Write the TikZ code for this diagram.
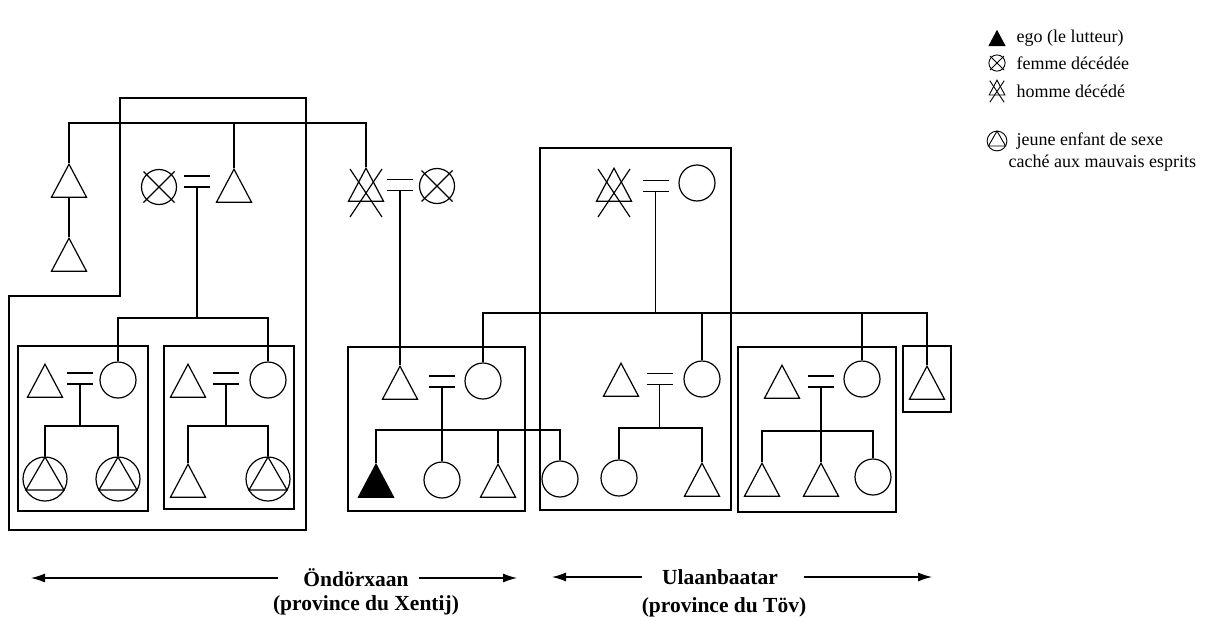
\documentclass[tikz,border=0pt]{standalone}
\usepackage{fontspec}
\setmainfont{Liberation Serif}
\usetikzlibrary{shapes.geometric,arrows.meta}
\tikzset{
  tri/.style={draw, isosceles triangle, isosceles triangle apex angle=60, isosceles triangle stretches, shape border rotate=90, minimum width=35pt, minimum height=33pt, inner sep=0pt, anchor=apex},
  circ/.style={draw, circle, minimum size=36pt, inner sep=0pt},
  hidc/.style={draw, circle, minimum size=44pt, inner sep=0pt},
  hidt/.style={draw, regular polygon, regular polygon sides=3, minimum size=44pt, inner sep=0pt},
  wed/.pic={\draw (-13,-5.5) -- (13,-5.5) (-13,5.5) -- (13,5.5); \coordinate (-low) at (0,5.5);},
  crossc/.pic={\draw (-15.5,-15.5) -- (15.5,15.5) (15.5,-15.5) -- (-15.5,15.5);},
  crosst/.pic={\draw (-16,-24) -- (16,24) (16,-24) -- (-16,24);},
  place/.style={font=\fontsize{21.5}{26}\selectfont\bfseries, inner sep=0pt},
  legend/.style={font=\fontsize{18}{22}\selectfont, anchor=west, inner sep=0pt},
  region/.style={-{Latex[length=14pt,width=9pt]}}
}
\begin{document}
\begin{tikzpicture}[x=1pt, y=-1pt, line width=1.2pt]
\useasboundingbox (0,0) rectangle (1210,621);

\node[tri] (ggA) at (69,163) {};
\node[tri] (ggB) at (69,237) {};
\node[circ, minimum size=35pt] (gmL) at (159,187) {};
\pic at (gmL.center) {crossc};
\pic (wL) at (197,181.5) {wed};
\node[tri] (gfL) at (234,168) {};
\node[tri] (gdM) at (366,167) {};
\pic at ([yshift=-26pt]gdM.apex) {crosst};
\pic (wM) at (400,185) {wed};
\node[circ, minimum size=35pt] (gmM) at (437,186) {};
\pic at (gmM.center) {crossc};
\node[tri] (gdT) at (614,167) {};
\pic at ([yshift=-26pt]gdT.apex) {crosst};
\pic (wT) at (655.5,186) {wed};
\node[circ] (gmT) at (697,183) {};

\node[tri] (hA) at (45,363) {};
\pic (wA) at (80,378.5) {wed};
\node[circ] (mA) at (118,380) {};
\node[hidc] (kA1) at (45,479) {};
\node[hidt] (kA1t) at (kA1) {};
\node[hidc] (kA2) at (118,479) {};
\node[hidt] (kA2t) at (kA2) {};

\node[tri] (hB) at (188,363) {};
\pic (wB) at (226,378.5) {wed};
\node[circ] (mB) at (268,380) {};
\node[tri] (kB1) at (188,463) {};
\node[hidc] (kB2) at (268,479) {};
\node[hidt] (kB2t) at (kB2) {};

\node[tri] (hC) at (400,365) {};
\pic (wC) at (442,381.5) {wed};
\node[circ] (mC) at (483,381) {};
\node[tri, fill=black] (ego) at (376,463) {};
\node[circ] (kC2) at (442,480) {};
\node[tri] (kC3) at (498,463) {};
\node[circ] (kC4) at (560,479) {};

\node[tri] (hD) at (621,362) {};
\pic (wD) at (659.5,379) {wed};
\node[circ] (mD) at (702,379) {};
\node[circ] (kD1) at (619,478) {};
\node[tri] (kD2) at (702,462) {};

\node[tri] (hE) at (782,364) {};
\pic (wE) at (821,381.5) {wed};
\node[circ] (mE) at (862,379) {};
\node[tri] (kE1) at (762,462) {};
\node[tri] (kE2) at (821,462) {};
\node[circ] (kE3) at (873,477) {};

\node[tri] (sT) at (927,365) {};

\draw (120,98) -- (306,98) -- (306,530) -- (9,530) -- (9,296) -- (120,296) -- cycle;
\draw (18,346) rectangle (148,511);
\draw (164,346) rectangle (294,509);
\draw (348,347) rectangle (525,511);
\draw (540,148) rectangle (731,510);
\draw (738,347) rectangle (896,512);
\draw (903,346) rectangle (951,412);

\coordinate (topbar) at (0,123);
\draw (ggA.apex) -- (ggA.apex |- topbar) -| (gdM.apex);
\draw (gfL.apex) -- (gfL.apex |- topbar);
\draw (ggA.left corner -| ggA.apex) -- (ggB.apex);

\coordinate (barL) at (0,318);
\draw (wL-low) -- (wL-low |- barL);
\draw (mA.north) -- (mA.north |- barL) -| (mB.north);
\coordinate (barA) at (0,426);
\draw (wA-low) -- (wA-low |- barA);
\draw (kA1.north) -- (kA1.north |- barA) -| (kA2.north);
\draw (wB-low) -- (wB-low |- barA);
\draw (kB1.apex) -- (kB1.apex |- barA) -| (kB2.north);

\draw (wM-low) -- (wM-low |- hC.apex);
\coordinate (barC) at (0,430);
\draw (ego.apex) -- (ego.apex |- barC) -| (kC4.north);
\draw (wC-low) -- (wC-low |- kC2.north);
\draw (kC3.apex) -- (kC3.apex |- barC);

\coordinate (barU) at (0,313);
\draw (mC.north) -- (mC.north |- barU) -| (sT.apex);
\draw (wT-low) -- (wT-low |- barU);
\draw (mD.north) -- (mD.north |- barU);
\draw (mE.north) -- (mE.north |- barU);
\coordinate (barD) at (0,428);
\draw (wD-low) -- (wD-low |- barD);
\draw (kD1.north) -- (kD1.north |- barD) -| (kD2.apex);
\coordinate (barE) at (0,431);
\draw (wE-low) -- (wE-low |- kE2.apex);
\draw (kE1.apex) -- (kE1.apex |- barE) -| (kE3.north);

\begin{scope}[shift={(997,38)}, scale=0.45, transform shape, line width=0.9pt]
\node[tri, fill=black] (lgEgo) at (0,-17) {};
\node[circ] (lgF) at (0,55.6) {};
\pic at (0,55.6) {crossc};
\node[tri] (lgH) at (0,92.8) {};
\pic at (0,118.8) {crosst};
\node[hidc] (lgJ) at (0,228.9) {};
\node[hidt] (lgJt) at (lgJ) {};
\end{scope}
\node[legend] (lgT1) at (1016,38) {ego (le lutteur)};
\node[legend] (lgT2) at (1016,63) {femme décédée};
\node[legend] (lgT3) at (1016,91) {homme décédé};
\node[legend] (lgT4) at (1016,141) {jeune enfant de sexe};
\node[legend] (lgT5) at (1008,163) {caché aux mauvais esprits};

\node[place] (ond) at (356,578) {Öndörxaan};
\node[place] (ondP) at (366,605) {(province du Xentij)};
\coordinate (ondL) at (31,578);
\coordinate (ondR) at (517,578);
\draw[region, shorten <=25pt] (ond.west) -- (ondL);
\draw[region, shorten <=10pt] (ond.east) -- (ondR);
\node[place] (ulb) at (720,577) {Ulaanbaatar};
\node[place] (ulbP) at (724,607) {(province du Töv)};
\coordinate (ulbL) at (552,577);
\coordinate (ulbR) at (932,577);
\draw[region, shorten <=19pt] (ulb.west) -- (ulbL);
\draw[region, shorten <=25pt] (ulb.east) -- (ulbR);
\end{tikzpicture}
\end{document}
